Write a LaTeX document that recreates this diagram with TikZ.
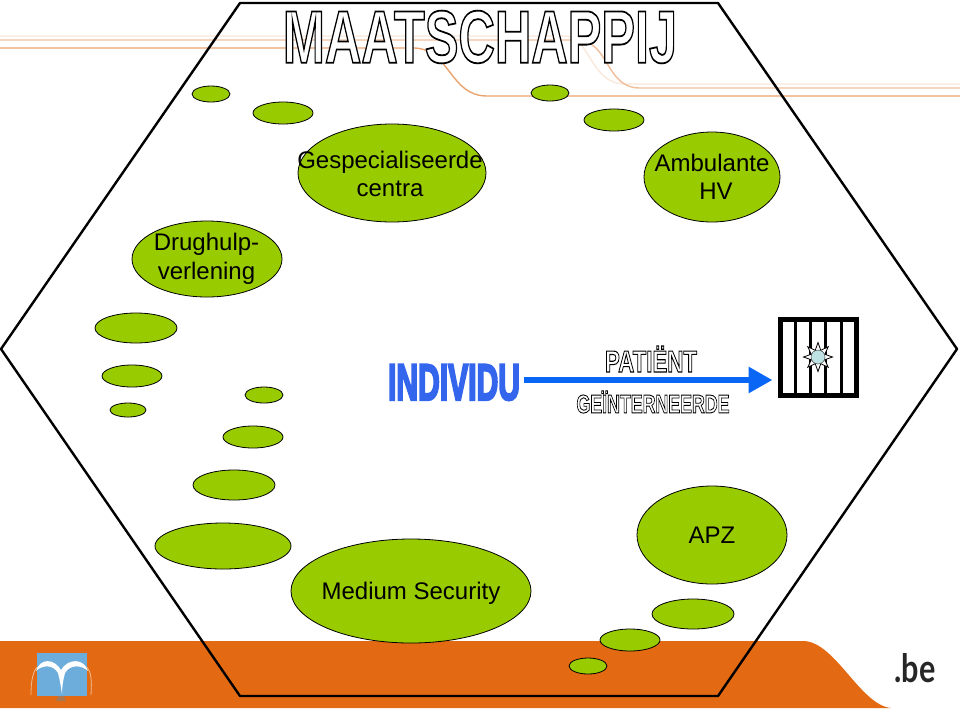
\documentclass[tikz,border=0pt]{standalone}
\usepackage{fontspec}
\setmainfont{Liberation Sans}
\newfontfamily\befont{Lato}
\usepackage{graphicx}
\usetikzlibrary{positioning,shapes,arrows.meta}
\definecolor{bandorange}{HTML}{E36A12}
\definecolor{blobgreen}{HTML}{99CC00}
\definecolor{arrowblue}{HTML}{0A66F5}
\definecolor{lineorange}{HTML}{E9A36F}
\definecolor{logoblue}{HTML}{6CADDC}
\definecolor{corecyan}{HTML}{BFE2E4}
\tikzstyle{Blob}=[ellipse, draw=black, fill=blobgreen, line width=0.8pt, inner sep=0pt]
\tikzstyle{BlobText}=[font=\fontsize{24}{28.5}\selectfont, align=center, inner sep=0pt]
\tikzstyle{Rail}=[line width=1.4pt, line join=round]
% hollow lettering: stroke the glyphs and fill them white
\newcommand{\hollowtext}[4]{\resizebox{#1pt}{#2pt}{\special{pdf:code q 2 Tr #3 w 0 0 0 RG 1 1 1 rg}\textbf{#4}\special{pdf:code Q}}}
\begin{document}
\begin{tikzpicture}[x=1pt,y=-1pt]
    \useasboundingbox (0,0) rectangle (960,710);

    % band at the bottom
    \fill [bandorange] (0,641) -- (803,641) .. controls (835,641) and (860,705) .. (891,708) -- (0,708) -- cycle;

    % thin rails behind the title
    \draw [Rail, lineorange!25] (0,36) -- (565,36) .. controls (590,36) and (590,84) .. (625,84) -- (960,84);
    \draw [Rail, lineorange!70] (0,40) -- (578,40) .. controls (610,42) and (605,88) .. (640,88) -- (960,88);
    \draw [Rail, lineorange] (0,48) -- (415,48) .. controls (450,50) and (450,96) .. (487,96) -- (960,96);

    % hexagon
    \draw [line width=2.4pt, line join=round] (240,3) -- (718,3) -- (957,349) -- (718,696) -- (240,696) -- (1,349) -- cycle;

    % small blobs
    \foreach \cx/\cy/\rx/\ry in {211/94/19/8, 283/113/30/11, 550/93/19/8, 614/120/30/11,
        136/328/41/15, 132/376/30/11, 128/410/18/7, 264/395/19/8, 253/437/30/11,
        234/485/41/15, 223/546/68/23, 693/614/41/15, 630/640/30/11, 588/666/19/8}
      \node [Blob, minimum width=2*\rx pt, minimum height=2*\ry pt] at (\cx,\cy) {};

    % named blobs
    \node (centra) [Blob, minimum width=188pt, minimum height=98pt] at (392,173) {};
    \node (ambulant) [Blob, minimum width=136pt, minimum height=90pt] at (712,177) {};
    \node (drughulp) [Blob, minimum width=150pt, minimum height=76pt] at (207,259) {};
    \node (medium) [Blob, minimum width=240pt, minimum height=104pt] at (411,591) {};
    \node (apz) [Blob, minimum width=150pt, minimum height=98pt] at (712,535) {};

    \node (centratext) [BlobText] at (390,174) {Gespecialiseerde\\centra};
    \node (ambulanttext) [BlobText] at (712,177) {Ambulante\\\hspace*{8pt}HV};
    \node (drughulptext) [BlobText] at (206.5,259) {Drughulp-\\verlening};
    \node (mediumtext) [BlobText] at (411,593) {Medium Security};
    \node (apztext) [BlobText] at (712,535) {APZ};

    % title and middle row
    \node (title) [inner sep=0pt] at (480,37) {\hollowtext{394}{52}{0.24}{MAATSCHAPPIJ}};
    \node (individu) [inner sep=0pt] at (454,382.5) {\resizebox{132pt}{35pt}{\special{pdf:code q 2 Tr 0.5 w 0.2 0.4 0.93 RG 0.2 0.4 0.93 rg}\textbf{INDIVIDU}\special{pdf:code Q}}};
    \node (patient) [inner sep=0pt] at (651,359) {\hollowtext{92}{26}{0.35}{PATIËNT}};
    \node (geint) [inner sep=0pt] at (653,402) {\hollowtext{153}{22}{0.35}{GEÏNTERNEERDE}};

    % cell with bars
    \node (cell) [draw=black, line width=5pt, minimum width=76pt, minimum height=76pt, inner sep=0pt] at (818,357.5) {};
    \foreach \bx in {795,810,825,841}
      \draw [line width=3pt] (\bx,320) -- (\bx,395);
    \node (spark) [star, star points=8, star point ratio=2, draw=black, fill=white, line width=0.8pt, minimum size=29pt, inner sep=0pt] at (818,357) {};
    \node (core) [circle, fill=corecyan, draw=black, line width=0.3pt, minimum size=14pt, inner sep=0pt] at (818,357) {};

    \draw [-{Triangle[length=24pt,width=25pt]}, line width=6pt, arrowblue, shorten <=4pt, shorten >=5pt] ([yshift=2.5pt]individu.east) -- ([yshift=2.5pt]individu.east -| cell.west);

    % logo in the band
    \fill [gray!55!bandorange] (61,688) -- (66,701) -- (56,701) -- cycle;
    \node (logo) [fill=logoblue, minimum width=50pt, minimum height=43pt, inner sep=0pt] at (62,674.5) {};
    \draw [white!55!bandorange, line width=0.8pt] (31,695) .. controls (31,680) and (33,672) .. (37,667);
    \draw [white!55!bandorange, line width=0.8pt] (87,667) .. controls (91,672) and (92,680) .. (91,695);
    \fill [white] (36,671) .. controls (40,658) and (54,658) .. (61,670) .. controls (68,658) and (84,658) .. (88,671)
      .. controls (82,665) and (70,664) .. (65,673) .. controls (63,680) and (62,688) .. (62,694)
      .. controls (61,688) and (60,680) .. (58,673) .. controls (53,664) and (42,665) .. (36,671) -- cycle;

    \node (be) [inner sep=0pt, text=black!85] at (915,668) {\resizebox{41pt}{29pt}{\befont\bfseries .be}};
\end{tikzpicture}
\end{document}
